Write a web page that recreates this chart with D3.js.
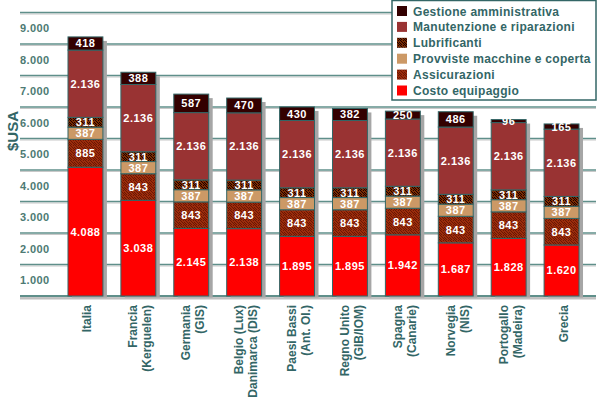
<!DOCTYPE html>
<html>
<head>
<meta charset="utf-8">
<script src="https://cdn.jsdelivr.net/npm/d3@7"></script>
<style>
  body { margin: 0; background: #fff; }
  svg { display: block; font-family: Arial, "Liberation Sans", sans-serif; }
</style>
</head>
<body>
<div id="chart"></div>
<script>
// countries (two-line labels split with "|")
var countries = ["Italia", "Francia|(Kerguelen)", "Germania|(GIS)", "Belgio (Lux)|Danimarca (DIS)",
  "Paesi Bassi|(Ant. Ol.)", "Regno Unito|(GIB/IOM)", "Spagna|(Canarie)", "Norvegia|(NIS)",
  "Portogallo|(Madeira)", "Grecia"];

// series values, $USA
var costoEquipaggio = [4088, 3038, 2145, 2138, 1895, 1895, 1942, 1687, 1828, 1620];
var assicurazioni   = [885, 843, 843, 843, 843, 843, 843, 843, 843, 843];
var provviste       = [387, 387, 387, 387, 387, 387, 387, 387, 387, 387];
var lubrificanti    = [311, 311, 311, 311, 311, 311, 311, 311, 311, 311];
var manutenzione    = [2136, 2136, 2136, 2136, 2136, 2136, 2136, 2136, 2136, 2136];
var gestione        = [418, 388, 587, 470, 430, 382, 250, 486, 96, 165];

var seriesNames = ["Costo equipaggio", "Assicurazioni", "Provviste macchine e coperta",
  "Lubrificanti", "Manutenzione e riparazioni", "Gestione amministrativa"];
var seriesValues = [costoEquipaggio, assicurazioni, provviste, lubrificanti, manutenzione, gestione];

var yTicks = [1000, 2000, 3000, 4000, 5000, 6000, 7000, 8000, 9000];

var W = 600, H = 398;
var teal = "#336666";
var fills = ["#ff0000", "url(#pAss)", "#cc9966", "url(#pLub)", "#993333", "#330000"];

var rows = countries.map(function(c, i) {
  var r = { country: c };
  seriesNames.forEach(function(s, k) { r[s] = seriesValues[k][i]; });
  return r;
});

var svg = d3.select("#chart").append("svg").attr("width", W).attr("height", H);

// speckled textures (irregular dot layout in a 5x5 tile)
var defs = svg.append("defs");
var dots = [[0,0],[3,0],[1,1],[4,2],[2,2],[0,3],[3,3],[1,4],[4,4]];
function speckle(id, base, dot) {
  var p = defs.append("pattern").attr("id", id).attr("patternUnits", "userSpaceOnUse")
    .attr("width", 5).attr("height", 5);
  p.append("rect").attr("width", 5).attr("height", 5).attr("fill", base);
  dots.forEach(function(d) {
    p.append("rect").attr("x", d[0]).attr("y", d[1]).attr("width", 1).attr("height", 1).attr("fill", dot);
  });
}
speckle("pAss", "#9c2c0c", "#6a1804");
speckle("pLub", "#7a2c02", "#1e0000");

var x = d3.scaleBand().domain(countries).range([59, 588]).paddingInner(0.34).paddingOuter(0.17);
var y = d3.scaleLinear().domain([0, 9000]).range([296, 12.5]);
var halfStep = (y(0) - y(1000)) / 2;

// gridlines
var grid = svg.append("g");
[0].concat(yTicks).forEach(function(v) {
  grid.append("line").attr("x1", 20).attr("x2", 596).attr("y1", y(v) + 1.5).attr("y2", y(v) + 1.5)
    .attr("stroke", "#c8c8c8").attr("stroke-width", 1);
  grid.append("line").attr("x1", 20).attr("x2", 596).attr("y1", y(v)).attr("y2", y(v))
    .attr("stroke", "#5f8f8a").attr("stroke-width", v === 0 ? 2 : 1.5);
});

// y tick labels (sit half a step below their line, as in the original)
svg.append("g").selectAll("text").data(yTicks).enter().append("text")
  .attr("x", 20).attr("y", function(d) { return y(d) + halfStep + 4; })
  .attr("font-size", 11).attr("font-weight", "bold").attr("fill", "#4d7a73")
  .attr("letter-spacing", 0.4)
  .text(function(d) { return d3.format(",")(d).replace(",", "."); });

svg.append("text").attr("transform", "translate(18,131) rotate(-90)")
  .attr("text-anchor", "middle").attr("font-size", 15).attr("font-weight", "bold")
  .attr("fill", teal).text("$USA");

var stack = d3.stack().keys(seriesNames)(rows);
var totals = rows.map(function(r, i) { return stack[stack.length - 1][i][1]; });

// shadows
svg.append("g").selectAll("rect").data(rows).enter().append("rect")
  .attr("x", function(d) { return x(d.country) + 4; })
  .attr("y", function(d, i) { return y(totals[i]) + 4; })
  .attr("width", x.bandwidth())
  .attr("height", function(d, i) { return y(0) - y(totals[i]) - 2; })
  .attr("fill", "#a6a6a6");
// floor shadow
svg.append("line").attr("x1", 20).attr("x2", 596).attr("y1", 298.5).attr("y2", 298.5)
  .attr("stroke", "#bfbfbf").attr("stroke-width", 2);

// stacked segments
var layers = svg.append("g").selectAll("g").data(stack).enter().append("g")
  .attr("fill", function(d, k) { return fills[k]; });
layers.selectAll("rect").data(function(d) { return d; }).enter().append("rect")
  .attr("x", function(d) { return x(d.data.country); })
  .attr("y", function(d) { return y(d[1]); })
  .attr("width", x.bandwidth())
  .attr("height", function(d) { return y(d[0]) - y(d[1]); })
  .attr("stroke", teal).attr("stroke-width", 1);

// value labels
layers.selectAll("text").data(function(d) { return d; }).enter().append("text")
  .attr("x", function(d) { return x(d.data.country) + x.bandwidth() / 2; })
  .attr("y", function(d) { return (y(d[0]) + y(d[1])) / 2 + 4; })
  .attr("text-anchor", "middle").attr("font-size", 11).attr("font-weight", "bold")
  .attr("letter-spacing", 0.5)
  .attr("fill", "#fff").attr("stroke", "none")
  .text(function(d) { return d3.format(",")(d[1] - d[0]).replace(",", "."); });

// x labels, rotated
var xl = svg.append("g").selectAll("g").data(countries).enter().append("g")
  .attr("transform", function(d) { return "translate(" + (x(d) + x.bandwidth() / 2 + 2) + ",305) rotate(-90)"; });
xl.each(function(d) {
  var lines = d.split("|");
  var g = d3.select(this);
  lines.forEach(function(t, j) {
    g.append("text").attr("x", 0)
      .attr("y", (j - (lines.length - 1) / 2) * 14 + 4)
      .attr("text-anchor", "end").attr("font-size", 12).attr("font-weight", "bold")
      .attr("fill", teal).text(t);
  });
});

// legend
var legend = svg.append("g");
legend.append("rect").attr("x", 392).attr("y", 0.5).attr("width", 204).attr("height", 99.5)
  .attr("fill", "#fff").attr("stroke", teal).attr("stroke-width", 1.5);
var legendOrder = seriesNames.slice().reverse();
legendOrder.forEach(function(s, j) {
  var k = seriesNames.indexOf(s);
  var cy = 11 + j * 15.9;
  legend.append("rect").attr("x", 397).attr("y", cy - 5).attr("width", 10).attr("height", 10)
    .attr("fill", fills[k]);
  legend.append("text").attr("x", 413).attr("y", cy + 4.5)
    .attr("font-size", 12).attr("font-weight", "bold").attr("letter-spacing", 0.3)
    .attr("fill", teal).text(s);
});
</script>
</body>
</html>
